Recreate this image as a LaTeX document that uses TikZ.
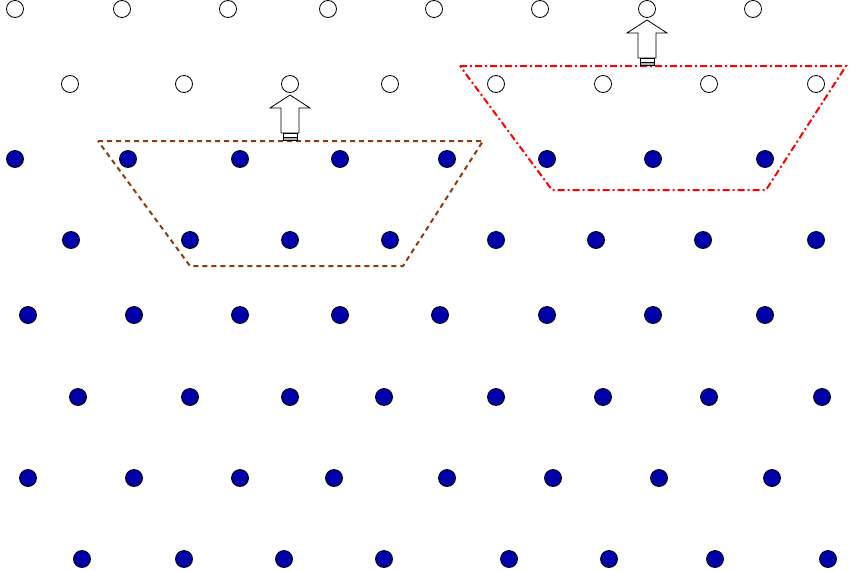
\documentclass[tikz,border=0pt]{standalone}
\begin{document}
\begin{tikzpicture}[x=1pt,y=-1pt,
  hole/.style={circle,draw=black,fill=white,line width=0.8pt,minimum size=17pt,inner sep=0pt},
  atom/.style={circle,draw=black,fill={rgb,255:red,0;green,0;blue,170},line width=0.8pt,minimum size=17pt,inner sep=0pt},
  uparrow/.style={draw=black,fill=white,line width=0.8pt}]
\useasboundingbox (0,0) rectangle (850,570);
\foreach \x [count=\i] in {15,122,228,328,434,540,647,753} \node[hole] (a\i) at (\x,9) {};
\foreach \x [count=\i] in {70,184,290,390,496,603,709,816} \node[hole] (b\i) at (\x,84) {};
\foreach \y/\xs [count=\r] in {159/{15,128,240,340,447,547,653,765},240/{71,190,290,390,496,596,703,816},315/{28,134,240,340,440,547,653,765},397/{78,190,290,384,496,603,709,822},478/{28,134,240,334,447,553,659,772},559/{82,184,284,384,509,609,715,828}}
  \foreach \x [count=\i] in \xs \node[atom] (c\r-\i) at (\x,\y) {};
\draw[dash pattern=on 5pt off 4pt,line width=2pt,color={rgb,255:red,140;green,60;blue,10}] (98,141)--(483,141)--(403,266)--(190,266)--cycle;
\draw[dash pattern=on 7pt off 3pt on 2pt off 3pt,line width=2pt,color=red] (460,66)--(846,66)--(766,190)--(552,190)--cycle;
\foreach \cx/\ty in {290/95,647/20}{
  \draw[uparrow] (\cx,\ty)--(\cx+20,\ty+13)--(\cx+9,\ty+13)--(\cx+9,\ty+38)--(\cx-9,\ty+38)--(\cx-9,\ty+13)--(\cx-20,\ty+13)--cycle;
  \draw[uparrow] (\cx-7,\ty+38) rectangle (\cx+7,\ty+42);
  \draw[uparrow,fill=gray!60] (\cx-7,\ty+42) rectangle (\cx+7,\ty+45);
}
\end{tikzpicture}
\end{document}
